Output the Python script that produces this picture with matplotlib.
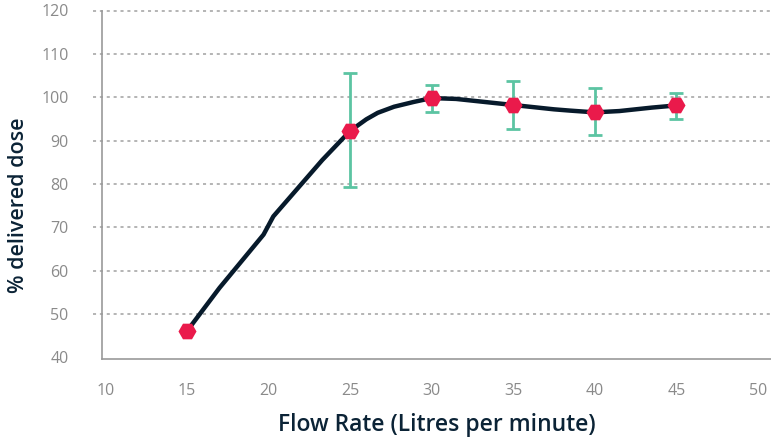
import matplotlib.pyplot as plt

# measured points (markers + error bars)
flow = [15, 25, 30, 35, 40, 45]
dose = [46.0, 92.2, 99.8, 98.2, 96.6, 98.1]
err_low = [0, 13.0, 3.3, 5.5, 5.4, 3.1]
err_high = [0, 13.3, 3.0, 5.5, 5.6, 2.9]

# fitted curve
curve_x = [15, 17, 19.7, 20.3, 21.8, 23.3, 25, 26, 26.7, 27.7, 28.9, 30,
           31.5, 32.5, 33.5, 35, 36.5, 37.5, 38.5, 40, 41.5, 42.5, 43.5, 45]
curve_y = [46, 56, 68.3, 72.5, 79.0, 85.5, 92.2, 94.9, 96.4, 97.8, 98.9, 99.8,
           99.6, 99.2, 98.8, 98.2, 97.6, 97.2, 96.9, 96.5, 96.8, 97.2, 97.6, 98.1]

xticks = [10, 15, 20, 25, 30, 35, 40, 45, 50]
yticks = [40, 50, 60, 70, 80, 90, 100, 110, 120]

plt.rcParams['font.family'] = ['Open Sans', 'DejaVu Sans']

W, H = 771, 437
fig = plt.figure(figsize=(W / 100, H / 100), dpi=100)
ax = fig.add_axes([102 / W, 1 - 359 / H, (771 - 102) / W, (359 - 10.5) / H])

navy = '#0b2336'
grey = '#8a8a8a'

for y in yticks[1:]:
    ax.axhline(y, xmin=-9 / 669, xmax=1, color='#a0a0a0', lw=1.1,
               linestyle=(0, (2, 2.5)), clip_on=False, zorder=0)

ax.plot(curve_x, curve_y, color='#071a2b', lw=3.2, solid_capstyle='round',
        solid_joinstyle='round', zorder=2)
ax.errorbar(flow[1:], dose[1:], yerr=[err_low[1:], err_high[1:]], fmt='none',
            ecolor='#5cc4a2', elinewidth=2, capsize=5, capthick=2, zorder=3)
ax.plot(flow, dose, linestyle='none', marker='H', markersize=13,
        color='#ea1a4b', markeredgewidth=0, zorder=4)

ax.set_xlim(9.8, 50.8)
ax.set_ylim(39.6, 120)
ax.set_xticks(xticks)
ax.set_yticks(yticks)
ax.tick_params(axis='both', length=0, colors=grey, labelsize=11.5)
ax.tick_params(axis='y', pad=24)
ax.tick_params(axis='x', pad=17)

for s in ['top', 'right']:
    ax.spines[s].set_visible(False)
for s in ['left', 'bottom']:
    ax.spines[s].set_color('#999999')
    ax.spines[s].set_linewidth(1.2)

ax.set_xlabel('Flow Rate (Litres per minute)', fontsize=16.5, color=navy,
              fontweight='semibold', va='center')
ax.set_ylabel('% delivered dose', fontsize=15.5, color=navy,
              fontweight='semibold', va='center')
ax.xaxis.set_label_coords(0.5, -(425 - 359) / 348.5)
ax.yaxis.set_label_coords(-(102 - 19) / 669, (359 - 205) / 348.5)

fig.savefig('out.png', dpi=100)
